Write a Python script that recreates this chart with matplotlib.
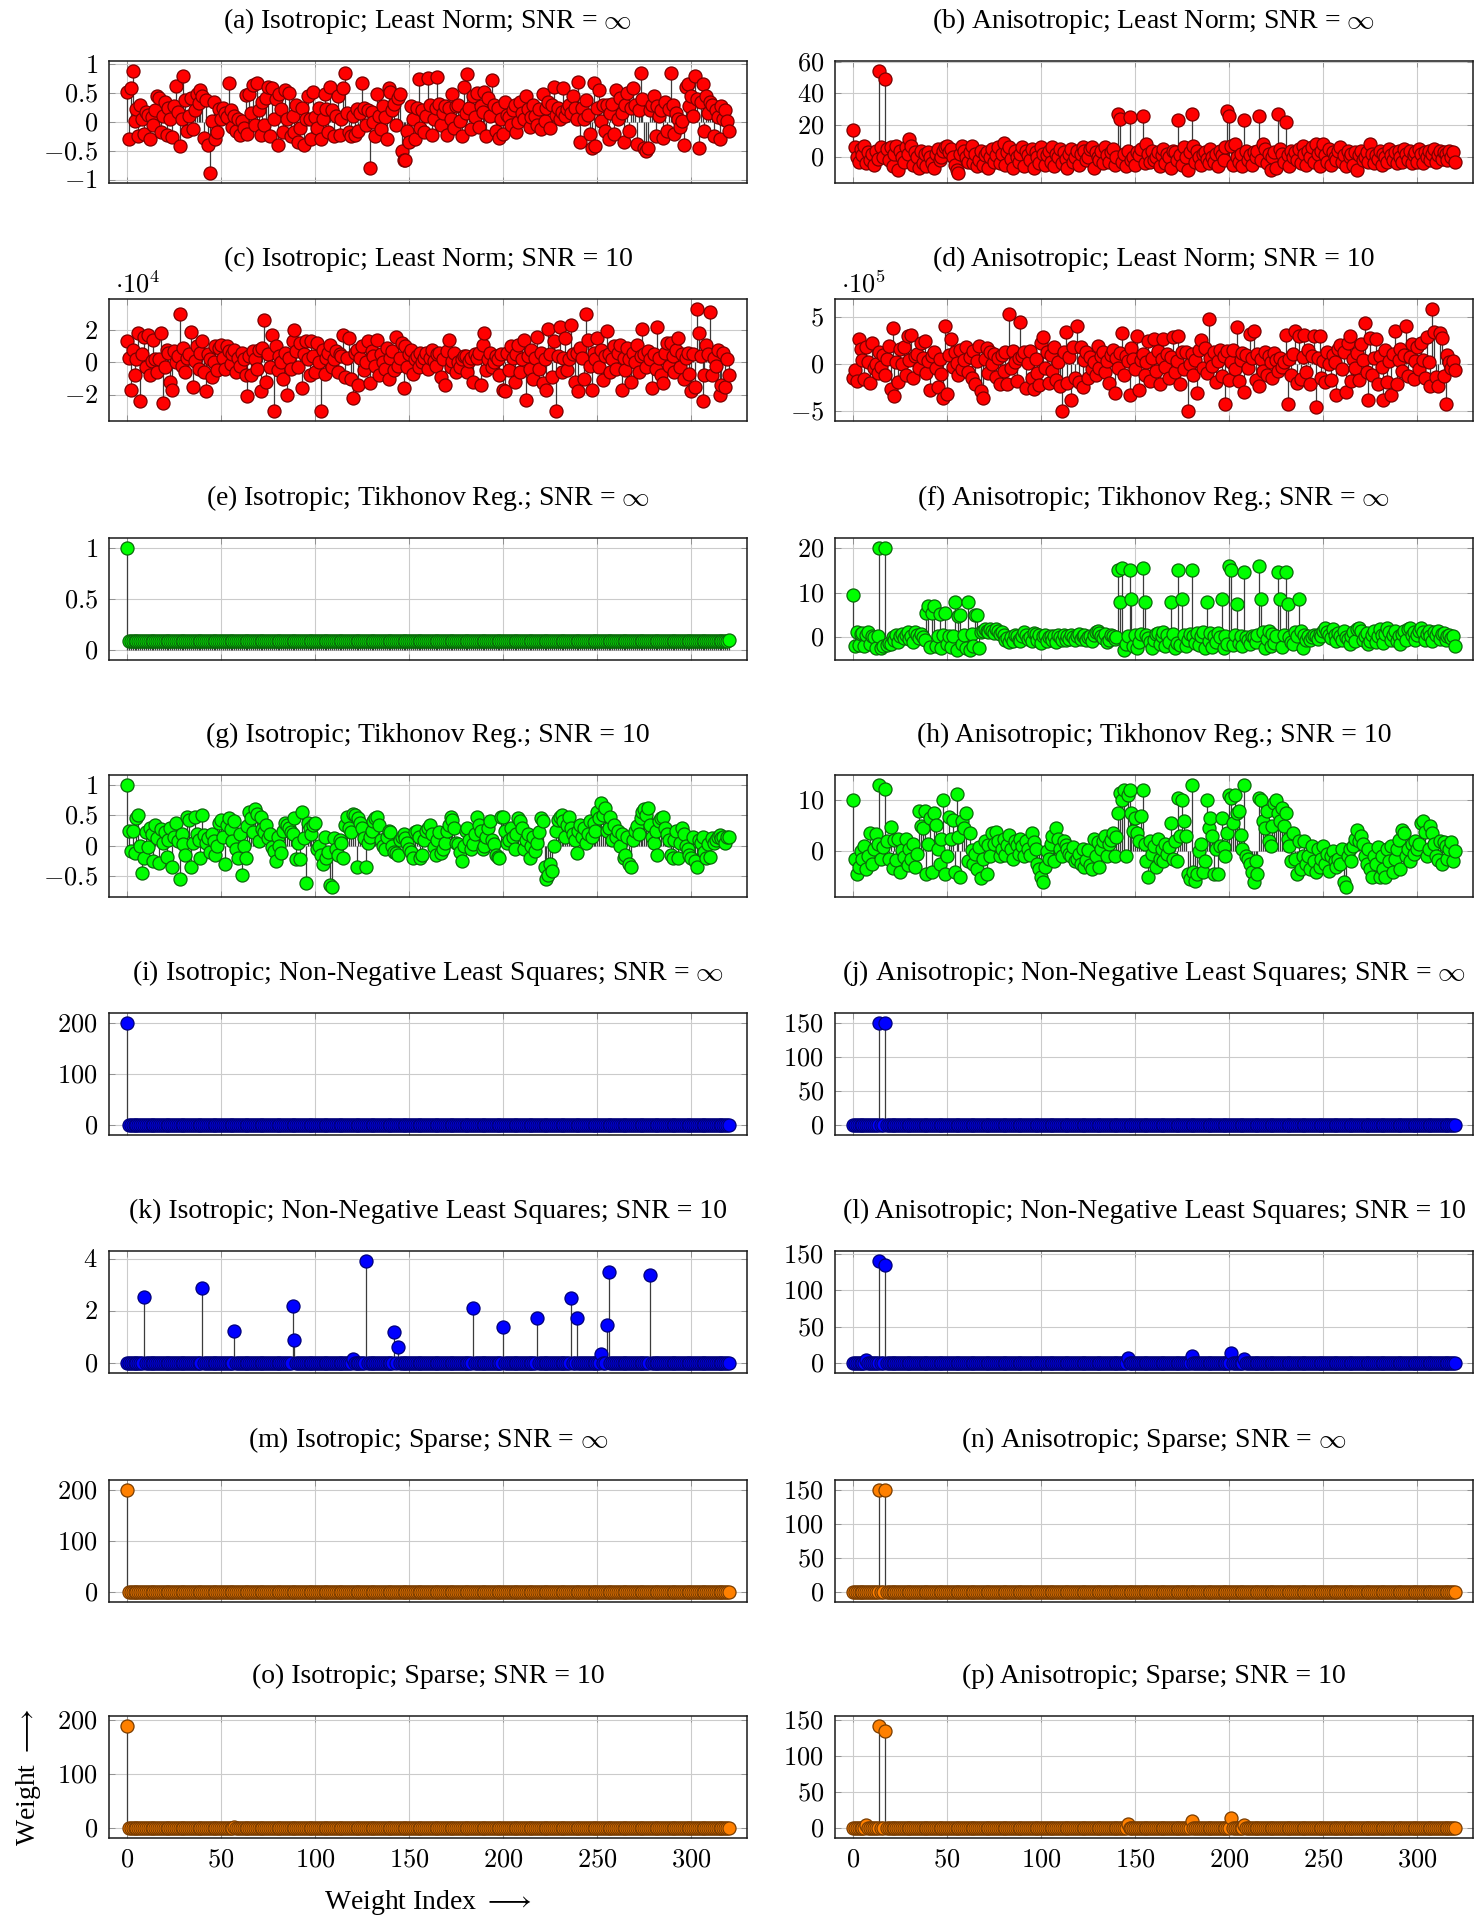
import numpy as np
import matplotlib
matplotlib.use("Agg")
import matplotlib.pyplot as plt
from matplotlib.ticker import FuncFormatter, MultipleLocator

plt.rcParams['mathtext.fontset'] = 'cm'
plt.rcParams['font.family'] = ['Liberation Serif', 'DejaVu Serif']

N_WEIGHTS = 321
X_TICKS = [0, 50, 100, 150, 200, 250, 300]

# (a) isotropic, least norm, SNR = inf
ln_iso_inf = [
    0.52, -0.30, 0.58, 0.88, 0.02, 0.22, -0.25, 0.30, 0.05, -0.20, 0.18, 0.12, -0.30, 0.08, -0.05, 0.20, 0.45, 0.42, -0.18, 0.10,
    0.35, -0.22, 0.25, 0.05, -0.26, 0.28, 0.62, 0.18, -0.42, 0.05, 0.80, 0.38, -0.15, 0.10, 0.42, -0.12, 0.20, 0.48, 0.33, 0.55,
    0.45, -0.28, 0.38, -0.40, -0.88, 0.02, 0.35, -0.30, -0.18, 0.22, 0.05, 0.25, 0.15, 0.08, 0.68, 0.20, -0.08, 0.10, -0.15, 0.05,
    -0.22, 0.02, -0.10, 0.47, -0.20, 0.48, 0.15, 0.64, -0.05, 0.68, 0.20, -0.22, 0.35, -0.05, 0.42, 0.60, -0.25, 0.58, 0.05, 0.40,
    -0.40, 0.48, 0.22, -0.18, 0.55, 0.05, 0.50, -0.25, 0.10, -0.18, 0.30, -0.35, -0.10, 0.25, -0.40, 0.05, 0.45, 0.05, -0.30, 0.52,
    0.08, -0.10, 0.25, -0.30, 0.05, 0.48, 0.22, -0.18, 0.60, 0.20, -0.25, 0.10, 0.45, -0.22, 0.05, 0.58, 0.85, 0.15, -0.18, -0.25,
    0.10, -0.22, 0.22, -0.15, 0.15, 0.67, 0.25, -0.05, 0.20, -0.80, 0.18, 0.00, -0.25, 0.48, 0.10, -0.12, 0.28, 0.08, -0.30, 0.58,
    0.52, 0.20, 0.32, -0.05, 0.42, 0.48, -0.50, -0.65, -0.65, -0.15, -0.35, 0.28, 0.05, -0.30, 0.25, 0.75, -0.10, 0.20, -0.18, 0.10,
    0.77, 0.30, -0.22, 0.05, 0.25, 0.78, 0.32, -0.05, 0.15, 0.28, -0.22, 0.25, 0.05, 0.48, -0.10, 0.28, 0.30, 0.02, -0.25, 0.60,
    0.15, 0.83, 0.25, -0.12, 0.45, 0.08, 0.50, -0.08, 0.28, 0.18, 0.52, -0.25, 0.42, 0.10, 0.72, 0.30, -0.15, 0.25, -0.28, 0.05,
    -0.20, 0.35, 0.12, 0.08, -0.05, 0.20, 0.30, -0.18, 0.00, 0.35, 0.15, 0.05, 0.45, 0.22, -0.08, 0.08, 0.30, 0.10, -0.05, 0.22,
    -0.12, 0.48, 0.02, 0.25, 0.35, -0.10, 0.30, 0.60, 0.12, 0.25, 0.05, 0.18, 0.58, 0.10, 0.22, 0.30, 0.15, 0.45, 0.25, 0.05,
    0.70, -0.35, 0.25, 0.05, 0.38, 0.12, -0.20, -0.45, 0.68, -0.42, 0.25, 0.55, 0.02, 0.30, -0.15, 0.30, -0.30, 0.15, 0.32, -0.20,
    0.55, 0.05, 0.42, 0.15, -0.35, 0.30, 0.50, -0.15, 0.25, 0.58, 0.30, -0.38, 0.20, 0.85, 0.40, -0.45, -0.50, -0.45, 0.20, 0.30,
    0.45, -0.25, 0.28, 0.10, 0.20, -0.28, 0.35, -0.15, 0.22, 0.84, 0.30, -0.20, 0.15, 0.05, -0.08, 0.02, -0.40, 0.60, 0.65, 0.28,
    0.45, 0.10, 0.80, 0.40, -0.45, 0.35, 0.65, -0.15, 0.45, 0.15, 0.35, 0.30, -0.25, 0.20, 0.08, -0.30, 0.28, 0.05, 0.20, 0.02,
    -0.15,
]

# (b) anisotropic, least norm, SNR = inf
ln_aniso_inf = [
    17, 6, 0, -3, 5, 1, 7, -4, 3, -2, 2, -5, 4, -1, 54, 6, 0, 49, 5, -2,
    6, -6, 2, 7, -8, 4, 0, -3, 6, 2, 11, 7, -5, 3, 0, -7, 4, -4, 2, -6,
    3, 0, -4, -7, 2, 5, -2, 0, 4, 6, 7, 3, 5, 0, -5, -8, -10, 2, 7, 4,
    0, -3, 3, 7, -4, 2, -6, -2, 4, -5, 1, 3, -7, 0, 5, -3, 1, 6, -4, 2,
    9, -5, 3, 6, -1, -7, 4, 0, -3, 2, 6, -6, 4, 1, -2, 5, -7, 3, 0, -4,
    6, 2, -5, 1, 4, -3, 6, -6, 2, 0, 5, -4, 3, -1, -7, 2, 5, -3, 0, 4,
    -5, 2, 6, 4, -2, 0, 5, 6, -7, 3, 0, -2, 4, -4, 6, 1, -3, 3, 5, -5,
    0, 27, 24, -3, 2, -6, 4, 25, -2, 0, -5, 3, 1, 5, 26, -4, 8, 2, -3, 4,
    -2, 0, 3, -6, 1, 5, -4, 2, 0, -7, 4, 3, -2, 23, 1, -5, 6, 0, -8, 3,
    27, 7, -3, 4, 0, -5, 2, 3, -1, -4, 5, 0, -3, 2, -6, 4, 1, -2, 6, 29,
    26, 7, -5, 8, 0, -3, 2, -6, 23, 4, -2, 1, -5, 3, 0, 4, 26, -2, 8, 5,
    -4, 2, -8, 0, 3, -7, 27, 5, 2, -3, 22, 1, -6, 4, 0, 3, -2, 5, -4, 7,
    2, -5, 4, 0, 6, -3, 8, 2, -6, 4, 8, 1, -3, 5, -5, 3, 0, -2, 4, 6,
    -3, 1, -6, 4, 0, 2, -5, 3, -8, 1, 4, -2, 0, 3, -3, 8, 2, -4, 1, -1,
    4, -5, 2, 0, -3, 5, 1, -2, 3, -4, 4, 0, -3, 5, 2, -2, 4, -4, 1, 3,
    -3, 5, 2, -4, 3, 0, 4, -2, 2, 5, -3, 1, 4, -1, 3, 2, -2, 4, 0, 3,
    -3,
]

# (c) isotropic, least norm, SNR = 10   (units of 1e4)
ln_iso_snr10 = [
    1.3, 0.3, -1.7, 0.8, -0.8, 0.2, 1.8, -2.4, 0.5, 1.6, -0.3, 1.7, -0.8, 0.1, 1.4, 0.2, -0.6, 0.2, 1.8, -2.5,
    -0.3, 0.8, 0.6, -1.2, -1.7, 0.7, 0.0, 0.4, 3.0, -0.2, 0.9, -0.6, 0.3, 0.5, 1.9, -1.5, 0.1, 1.0, -0.4, 0.6,
    1.3, -0.6, -1.8, 0.5, 0.2, -0.9, 0.0, 1.0, -0.5, 0.9, 1.1, 0.3, -0.4, 1.0, 0.7, -0.1, 0.5, 0.8, -0.6, 0.3,
    -0.2, 0.6, 0.2, -0.8, -2.1, 0.4, -0.8, 0.7, 0.2, -0.4, 0.8, -1.8, 0.9, 2.6, -1.2, 0.5, -0.3, 1.7, -3.0, 1.0,
    -0.5, 0.4, 0.0, -1.0, 0.6, -2.0, 0.3, -0.4, 1.3, 2.0, 0.7, -0.3, 1.2, -1.6, 0.5, 1.3, 0.2, -0.8, 1.3, 0.4,
    -0.6, 1.2, 0.0, -3.0, 0.8, -0.7, 0.3, 0.6, 1.1, -0.3, 0.2, 0.7, -0.6, 0.5, 0.4, 1.7, -0.9, 0.3, 1.5, -1.0,
    -2.2, 0.6, 0.8, -1.4, 0.3, 1.0, -0.5, 0.0, 1.3, -1.3, 0.7, 0.4, -0.2, 1.4, -0.8, 0.5, 0.0, -0.4, 0.9, -1.0,
    0.3, 0.7, -0.5, 1.6, -0.2, 0.3, 1.2, -1.6, 1.0, -0.3, 0.5, 0.8, -0.7, 0.2, 0.4, -0.3, 0.6, 0.0, 0.3, 0.6,
    -0.4, 0.3, 0.8, 0.1, -0.2, 0.5, 0.6, -0.9, 0.2, -1.4, 0.7, 1.4, -0.3, 0.1, 0.6, -0.6, 0.0, -0.3, 0.2, 0.4,
    0.4, -0.6, 0.1, 0.3, -1.2, 0.5, 0.3, 0.6, -1.4, 1.1, 1.8, -0.5, 0.2, 0.6, -0.3, 0.0, 0.4, 0.2, -0.8, 0.5,
    -1.7, -1.8, 0.6, -0.5, 1.0, 0.3, -1.2, 0.5, 1.1, -0.6, 0.2, 1.4, -2.3, 0.4, -0.4, 0.8, -1.0, 0.3, 1.6, -0.4,
    0.6, -1.3, 0.2, -1.7, 2.1, 0.5, -0.9, 1.3, -3.0, 0.4, 2.2, -0.6, 0.3, 1.5, -0.5, 0.2, 2.3, 0.5, -1.2, 0.6,
    -1.8, 0.9, 0.3, -1.0, 3.0, 1.4, -0.2, -1.7, 0.6, 0.2, 1.5, -0.3, 0.8, -1.1, 0.4, 1.95, 0.5, -0.6, 0.2, 1.0,
    -0.4, 0.6, 1.1, -1.7, 0.3, -0.5, 0.9, 0.2, -1.2, 0.6, 0.0, 1.1, -0.6, 0.4, 2.1, 0.5, -0.3, 0.7, 0.2, -1.6,
    0.5, -0.4, 2.2, 0.3, -0.8, -1.3, 0.6, 1.2, -0.2, 1.2, 0.4, -0.6, 0.8, 1.5, -0.3, 0.5, -1.0, 0.3, 0.6, -0.7,
    -1.8, 0.5, -1.5, 3.3, 1.8, 0.4, -2.4, -0.8, 1.1, 0.5, 3.1, -0.8, 0.3, -0.2, 0.8, -2.0, -1.4, 0.6, -1.5, 0.2,
    -0.8,
]

# (d) anisotropic, least norm, SNR = 10   (units of 1e5)
ln_aniso_snr10 = [
    -1.5, -0.7, -1.8, 2.6, 1.6, 0.4, -1.6, 1.8, 0.2, -2.0, 2.2, -0.5, 0.0, -1.0, 1.2, -0.3, 0.9, -1.2, 0.5, 1.9,
    -2.7, 3.8, -3.4, 0.2, -1.9, 1.6, 0.0, 1.8, -1.2, 2.9, 0.4, 3.1, -1.5, 0.8, 1.0, -0.5, 2.2, 0.6, 2.4, -1.0,
    0.3, -2.8, 0.8, 1.2, -0.4, -2.5, 0.5, -1.1, -3.6, 4.0, -3.2, 0.9, 2.6, -0.3, 1.2, 0.1, -1.2, 1.5, -0.6, 0.4,
    1.8, -0.9, 0.7, -1.5, 1.4, -2.2, 0.3, 1.9, -2.9, -3.6, 0.5, 1.7, -1.0, 1.2, 0.0, 1.0, -1.4, 0.6, -2.2, 0.9,
    -0.8, 1.3, -2.1, 5.3, -0.5, 1.4, 0.2, -1.8, 0.6, 4.4, 0.8, 1.2, -2.6, 0.1, 1.4, -1.5, -2.7, 0.5, -1.0, -2.3,
    2.2, 2.8, -0.5, 1.2, -2.0, 0.9, -0.8, 1.8, -1.7, 0.2, -2.4, -5.0, 1.3, 3.4, -2.0, 0.7, -3.8, 1.8, -1.5, 4.0,
    -1.9, 1.8, -2.5, 0.4, 1.2, -1.5, 0.7, -0.6, 0.2, -1.2, 1.9, -0.4, 0.8, 1.2, -0.9, 0.3, -2.0, 0.9, 1.5, -3.1,
    0.6, -0.4, 1.1, 3.3, -1.2, 0.8, 0.3, -3.3, 1.7, 0.5, -0.6, 3.0, -2.8, 0.4, 1.0, -1.2, 0.2, 2.4, -1.8, 0.6,
    2.6, -0.8, 1.4, -2.1, 0.5, 2.6, -0.3, 1.0, -1.5, 0.7, 2.8, -0.9, 0.3, 2.9, -2.2, 1.3, -0.6, 1.2, -5.0, 0.0,
    1.0, -1.2, 0.4, -3.1, 1.5, 2.5, -0.4, 1.7, -1.0, 4.8, 0.6, -0.2, 1.2, -1.9, 0.3, 1.5, -1.3, 0.8, -4.3, 1.4,
    -1.7, 0.2, 1.5, -0.6, 3.9, -1.8, 0.4, 1.1, -3.0, 0.9, -0.5, 3.2, 0.6, 3.5, -1.7, 1.0, -2.4, 0.5, -0.8, 1.2,
    -1.2, 0.8, 0.2, -1.5, 1.1, 0.4, -0.8, 0.6, -0.3, 0.2, 3.1, -4.3, 0.5, -1.2, 1.0, 3.5, -2.0, 3.0, -1.6, 0.7,
    3.1, -0.9, 1.5, -2.2, 0.8, 2.9, -4.6, 0.6, 3.0, -1.5, 0.3, -1.9, 1.2, 0.0, -1.7, 0.9, 0.2, -3.3, 1.6, 2.0,
    -0.6, 1.3, -3.0, 2.2, 2.9, -1.8, 0.5, -0.4, 1.1, -1.7, 2.1, 0.4, 4.3, -0.9, -3.8, 2.7, -1.2, 0.6, 2.6, -2.2,
    0.8, -0.3, -3.9, 1.5, -1.9, 0.3, -3.3, 1.0, 3.5, -2.1, 0.4, 1.6, -0.8, 0.9, 4.0, -1.3, 0.7, 2.1, -1.6, 0.3,
    1.8, -0.6, 2.2, 0.4, -1.5, 2.8, 0.2, -2.4, 5.8, 3.4, -1.4, -2.4, 3.3, 2.7, -1.3, -4.3, 0.9, 0.2, -0.5, 0.3,
    -0.7,
]

# (e) isotropic, Tikhonov, SNR = inf
tik_iso_inf = [1.0] + [0.09] * 319 + [0.10]

# (f) anisotropic, Tikhonov, SNR = inf
tik_aniso_inf = [
    9.5, -2.0, 1.2, -1.8, 0.8, 1.0, -2.0, 0.5, 1.2, -1.5, 0.2, 0.0, -2.5, 0.3, 20.0, -2.4, -2.0, 20.0, -1.8, -1.2,
    -1.5, 0.0, -0.5, 0.5, -1.0, 0.2, 0.8, -0.2, 0.5, 1.2, -0.4, 0.3, -1.0, 1.2, 0.5, -0.2, 0.8, 0.0, -0.5, 5.5,
    7.0, -2.2, 5.5, 7.0, -2.0, 0.3, 5.3, -2.5, 0.5, 5.4, -1.5, 0.2, -2.2, 0.3, 8.0, -2.8, 4.8, 5.0, -1.5, 0.5,
    -2.5, 8.0, -2.8, 0.8, -2.0, 5.0, 5.0, -2.5, 1.2, 1.5, 1.8, 1.5, 1.2, 1.8, 1.5, 1.0, 1.8, 1.5, 0.8, 1.2,
    0.5, -0.5, -0.2, -1.0, 0.0, -0.8, 0.5, 0.2, -0.5, -0.9, 0.4, 1.2, 0.6, -0.3, 0.0, -0.8, 1.0, 0.8, -0.5, 0.5,
    -1.2, 0.2, 0.6, -0.9, 0.0, 0.4, -0.6, 0.3, -1.0, 0.6, 0.0, -0.5, 0.5, -0.7, 0.2, -0.4, 0.6, 0.0, -0.6, 0.4,
    0.8, -0.3, 0.2, 0.6, -0.5, 0.0, 0.3, -0.8, 0.5, 1.2, 1.5, 1.0, 0.4, -0.2, 0.8, -1.0, -0.5, 0.6, 0.2, -0.3,
    0.0, 15.0, 8.0, 15.5, -2.8, -1.5, 0.2, 15.0, 8.5, -2.0, 0.5, -2.5, -1.0, 0.8, 15.5, 8.0, 0.5, -0.2, -1.0, -2.5,
    -0.5, 0.8, 1.0, -1.5, 0.3, 1.2, -2.0, 0.5, -1.0, 8.0, 0.8, -2.5, -1.2, 15.0, -1.8, 8.5, 0.5, -2.0, -0.5, 0.8,
    15.0, 0.2, -1.2, 1.0, -1.8, 0.4, 1.2, -2.4, 8.0, -0.8, 1.0, -2.2, 0.2, -1.0, 1.0, 0.0, 8.5, -2.4, 0.4, -1.5,
    16.0, 15.0, -1.8, 0.5, 7.5, -1.2, 0.3, -2.0, 14.7, 0.0, -0.5, -1.5, 0.2, 0.0, -1.0, 0.6, 16.0, 8.5, 1.2, -2.4,
    -0.3, 1.5, -2.0, 0.8, -1.2, 0.4, 14.7, 8.5, -2.2, 0.5, 14.7, 7.5, 0.0, -1.0, -1.5, 1.2, 0.3, 8.5, 1.5, -2.5,
    0.5, -0.5, 0.3, -0.5, 0.0, 0.5, 0.2, -0.3, 0.8, 0.4, 1.5, 2.0, 1.2, 0.5, -0.2, 1.8, 0.6, -0.8, 1.0, 0.2,
    -0.6, 1.5, 0.0, -0.3, -1.5, 0.4, 1.2, -0.8, 1.8, 2.0, 1.5, -0.5, 0.2, 1.0, -1.5, -0.8, 0.6, 1.5, -1.0, 0.3,
    1.8, 0.5, -1.2, 0.8, 2.0, 1.2, -0.5, 0.6, 1.5, -0.8, 0.3, -1.5, 0.8, 1.4, -0.5, 1.8, 2.0, 0.6, 1.2, -0.6,
    0.5, 1.5, 2.0, 1.2, -0.5, 0.8, 1.5, 0.2, -0.8, 1.2, 0.6, 1.5, -0.3, 0.8, 1.0, -0.5, 0.2, 0.6, -0.2, 0.3,
    -2.0,
]

# (g) isotropic, Tikhonov, SNR = 10
tik_iso_snr10 = [
    1.00, 0.25, -0.08, 0.25, -0.12, 0.45, 0.50, 0.00, -0.45, -0.20, 0.22, -0.02, 0.30, 0.20, -0.25, 0.35, 0.12, -0.28, 0.28, 0.05,
    0.22, -0.18, 0.10, 0.30, -0.35, 0.15, 0.38, 0.08, -0.55, 0.20, 0.02, -0.15, 0.48, 0.42, -0.35, 0.05, 0.48, 0.20, 0.10, -0.20,
    0.50, 0.18, 0.05, 0.12, -0.10, 0.20, 0.08, -0.15, 0.00, 0.38, 0.42, 0.15, -0.30, 0.35, 0.45, 0.28, 0.08, 0.40, -0.05, -0.20,
    0.20, -0.48, 0.00, -0.20, 0.32, 0.55, 0.45, 0.22, 0.60, 0.52, 0.08, 0.48, 0.28, 0.22, 0.35, 0.12, 0.20, -0.02, -0.08, -0.25,
    0.15, 0.00, -0.12, 0.25, 0.38, 0.35, 0.30, 0.22, 0.20, 0.45, -0.22, 0.05, -0.22, 0.55, 0.12, -0.62, 0.38, 0.30, 0.20, 0.35,
    0.38, -0.05, 0.00, -0.15, -0.30, 0.15, -0.20, -0.10, -0.65, -0.68, 0.12, -0.05, -0.15, 0.10, 0.05, -0.20, 0.35, 0.48, 0.30, 0.22,
    0.52, 0.50, -0.35, 0.45, 0.38, 0.30, 0.12, -0.35, 0.05, 0.15, 0.25, 0.40, 0.45, 0.48, 0.35, 0.10, 0.00, -0.05, 0.15, 0.25,
    0.22, 0.00, -0.10, -0.12, -0.15, 0.10, 0.15, 0.20, 0.12, 0.05, -0.05, -0.10, -0.20, 0.22, 0.25, 0.15, -0.20, -0.15, 0.10, 0.25,
    0.30, 0.35, 0.20, -0.02, -0.15, 0.10, 0.22, -0.12, -0.05, 0.05, 0.25, 0.35, 0.48, 0.42, 0.30, 0.05, 0.02, -0.10, -0.25, 0.00,
    0.25, 0.30, 0.10, -0.05, 0.02, 0.20, 0.48, 0.35, 0.25, -0.05, 0.00, 0.15, 0.30, 0.40, 0.10, 0.02, -0.15, -0.18, -0.20, 0.48,
    0.48, 0.25, 0.05, 0.10, 0.30, 0.15, -0.05, 0.20, 0.45, 0.40, 0.30, -0.05, 0.10, 0.20, -0.20, 0.00, 0.15, -0.08, 0.05, 0.22,
    0.45, 0.40, -0.35, -0.55, -0.48, -0.30, -0.42, 0.00, 0.25, 0.42, 0.48, 0.50, 0.40, 0.15, 0.35, 0.48, 0.30, 0.20, 0.10, -0.12,
    0.25, 0.35, 0.15, 0.30, 0.05, 0.20, 0.40, 0.15, 0.38, 0.25, 0.55, 0.45, 0.70, 0.50, 0.62, 0.25, 0.30, 0.48, 0.10, 0.35,
    0.15, 0.25, 0.00, 0.20, -0.20, -0.15, 0.15, -0.30, -0.35, 0.10, 0.25, 0.32, 0.20, 0.45, 0.55, 0.60, 0.50, 0.62, 0.35, 0.15,
    0.05, 0.25, -0.15, 0.40, 0.45, 0.48, 0.30, 0.20, 0.10, -0.15, -0.20, 0.10, 0.25, -0.20, 0.05, 0.30, 0.20, 0.00, -0.05, -0.15,
    -0.20, 0.15, -0.25, -0.35, 0.10, 0.05, 0.15, -0.10, -0.20, 0.02, -0.18, 0.12, 0.05, 0.10, 0.15, 0.18, 0.12, 0.15, 0.05, 0.15,
    0.15,
]

# (h) anisotropic, Tikhonov, SNR = 10
tik_aniso_snr10 = [
    10.0, -1.5, -4.5, -3.0, 0.0, -1.5, 1.0, -3.5, -1.0, 3.5, -2.5, 0.5, 3.3, 1.5, 13.0, -1.5, 0.8, 12.3, 2.0, -1.5,
    4.7, -3.2, 2.2, -1.8, 2.5, -4.0, 0.2, -1.2, 2.4, -2.8, 0.5, -1.5, 1.5, -3.0, -0.5, 8.0, 5.0, 4.5, 8.0, -4.5,
    1.5, 6.5, -4.0, 7.5, 5.2, 0.5, -2.5, 2.5, 10.0, -4.5, -1.0, 6.8, 2.5, 6.2, -4.0, 11.3, 2.8, -5.0, 6.0, 4.5,
    7.5, -2.0, 3.5, 0.2, -2.5, -0.5, -3.5, 0.8, -5.2, -1.5, 2.0, -4.5, 1.2, -1.0, 3.5, 1.5, 3.8, 2.0, -1.0, 0.5,
    2.5, -0.8, 1.2, 3.2, 0.5, -1.5, 2.0, 1.2, -0.5, 2.5, 1.0, -1.0, 2.0, 0.5, -0.8, 3.5, 1.8, 0.5, -2.5, -3.5,
    -5.0, -6.0, -3.0, 0.0, -1.5, 1.5, 3.0, -2.0, 4.5, 2.5, 0.5, -1.0, 2.0, 1.2, 0.5, -0.5, -1.0, 0.8, -2.0, -1.5,
    -0.5, -2.5, 0.5, -3.0, -1.8, 0.2, -2.8, -3.5, 2.5, -1.0, 1.8, -3.0, 0.5, 2.0, 3.0, -1.0, 1.5, 2.2, 3.5, -1.0,
    2.8, 7.5, 11.5, 10.0, 12.0, -1.0, 11.0, 12.0, 7.5, 4.0, 6.5, 3.5, 2.0, 7.0, 12.0, 1.5, -2.0, -5.0, 2.0, -0.5,
    1.0, -3.0, 2.5, -1.5, 0.5, -2.0, 1.5, -0.5, 0.8, 5.5, -1.5, 2.0, -2.0, 10.5, 3.0, 10.0, 6.0, 3.0, -4.5, -5.5,
    13.0, -4.0, -5.8, -4.5, 0.0, 1.5, -4.0, -2.0, 10.0, 4.5, 6.5, 3.0, -4.5, 0.5, -4.5, 1.0, 6.5, 0.8, -1.0, 3.5,
    11.0, 10.5, 5.5, 11.0, 7.5, 8.0, 3.2, 0.5, 13.0, -1.0, -1.5, -2.5, -4.0, -6.0, -2.0, -4.5, 10.5, 10.0, 6.0, 4.5,
    8.0, 2.0, 1.0, 5.0, 9.5, 10.0, 7.5, 6.0, 8.5, 5.0, 7.5, 2.5, 1.0, -2.0, 3.5, -1.5, -4.5, 2.0, -3.5, -1.0,
    2.0, -2.5, -1.0, -3.5, 1.0, -2.0, -4.0, 0.5, -3.0, -1.5, 1.0, -2.5, -0.5, -3.8, -1.0, 0.0, -2.0, -3.0, -1.5, -2.5,
    0.5, -6.0, -7.0, -1.0, 0.5, -2.0, 1.0, 2.5, 4.2, 2.0, 3.0, 1.5, -1.0, -2.5, 0.5, -3.5, -5.0, -1.0, -2.5, 0.8,
    -5.0, -1.0, -3.5, -5.0, 0.5, -2.0, 1.0, -4.0, -1.5, 0.5, 2.2, -3.5, 4.2, 3.5, -1.0, 0.5, -2.0, 1.5, -0.5, 2.0,
    0.5, 1.5, 5.5, 6.0, 3.8, -1.0, 0.5, 5.0, 3.5, 1.5, -1.0, -1.8, 2.0, -2.5, 1.8, 1.0, -1.5, 0.5, 1.8, -2.0,
    0.0,
]

# sparse results: non-zero indices and their weights, all other weights are 0
nnls_iso_inf_idx, nnls_iso_inf_val = [0], [200]
nnls_aniso_inf_idx, nnls_aniso_inf_val = [14, 17], [150, 150]
nnls_iso_snr10_idx = [9, 40, 57, 88, 89, 120, 127, 142, 144, 184, 200, 218, 236, 239, 252, 255, 256, 278]
nnls_iso_snr10_val = [2.52, 2.86, 1.23, 2.19, 0.88, 0.15, 3.9, 1.17, 0.6, 2.1, 1.39, 1.72, 2.48, 1.72, 0.32, 1.45, 3.5, 3.38]
nnls_aniso_snr10_idx = [7, 14, 17, 146, 180, 201, 208]
nnls_aniso_snr10_val = [4, 140, 135, 6, 10, 14, 5]
sp_iso_inf_idx, sp_iso_inf_val = [0], [200]
sp_aniso_inf_idx, sp_aniso_inf_val = [14, 17], [150, 150]
sp_iso_snr10_idx, sp_iso_snr10_val = [0, 57], [188, 1.0]
sp_aniso_snr10_idx = [7, 14, 17, 146, 180, 201, 208]
sp_aniso_snr10_val = [4, 141, 134, 6, 10, 14, 4]

COLORS = {
    'red': ('#ff0000', '#7a0000'),
    'green': ('#00ff00', '#0a6a0a'),
    'blue': ('#0000ff', '#00007a'),
    'orange': ('#ff8000', '#7a3d00'),
}


def sparse(idx, vals):
    w = np.zeros(N_WEIGHTS)
    w[idx] = vals
    return w


INF = "= $\\infty$"
panels = [
    (f"(a) Isotropic; Least Norm; SNR {INF}", ln_iso_inf, 'red', 0.5, None),
    (f"(b) Anisotropic; Least Norm; SNR {INF}", ln_aniso_inf, 'red', 20, None),
    ("(c) Isotropic; Least Norm; SNR = 10", ln_iso_snr10, 'red', 2, 4),
    ("(d) Anisotropic; Least Norm; SNR = 10", ln_aniso_snr10, 'red', 5, 5),
    (f"(e) Isotropic; Tikhonov Reg.; SNR {INF}", tik_iso_inf, 'green', 0.5, None),
    (f"(f) Anisotropic; Tikhonov Reg.; SNR {INF}", tik_aniso_inf, 'green', 10, None),
    ("(g) Isotropic; Tikhonov Reg.; SNR = 10", tik_iso_snr10, 'green', 0.5, None),
    ("(h) Anisotropic; Tikhonov Reg.; SNR = 10", tik_aniso_snr10, 'green', 10, None),
    (f"(i) Isotropic; Non-Negative Least Squares; SNR {INF}",
     sparse(nnls_iso_inf_idx, nnls_iso_inf_val), 'blue', 100, None),
    (f"(j) Anisotropic; Non-Negative Least Squares; SNR {INF}",
     sparse(nnls_aniso_inf_idx, nnls_aniso_inf_val), 'blue', 50, None),
    ("(k) Isotropic; Non-Negative Least Squares; SNR = 10",
     sparse(nnls_iso_snr10_idx, nnls_iso_snr10_val), 'blue', 2, None),
    ("(l) Anisotropic; Non-Negative Least Squares; SNR = 10",
     sparse(nnls_aniso_snr10_idx, nnls_aniso_snr10_val), 'blue', 50, None),
    (f"(m) Isotropic; Sparse; SNR {INF}", sparse(sp_iso_inf_idx, sp_iso_inf_val), 'orange', 100, None),
    (f"(n) Anisotropic; Sparse; SNR {INF}", sparse(sp_aniso_inf_idx, sp_aniso_inf_val), 'orange', 50, None),
    ("(o) Isotropic; Sparse; SNR = 10", sparse(sp_iso_snr10_idx, sp_iso_snr10_val), 'orange', 100, None),
    ("(p) Anisotropic; Sparse; SNR = 10", sparse(sp_aniso_snr10_idx, sp_aniso_snr10_val), 'orange', 50, None),
]

W, H = 1477, 1920
fig = plt.figure(figsize=(W / 100, H / 100), dpi=100)

col_left = [109, 835]
col_width = 638
row_top = [61, 299, 538, 775, 1013, 1251, 1480, 1716]
row_height = 122


def tick_fmt(v, _):
    if abs(v) < 1e-9:
        v = 0
    return f"${v:g}$"


for i, (title, vals, ckey, ystep, expo) in enumerate(panels):
    r, c = divmod(i, 2)
    rect = [col_left[c] / W, 1 - (row_top[r] + row_height) / H, col_width / W, row_height / H]
    ax = fig.add_axes(rect)
    y = np.asarray(vals, dtype=float)
    x = np.arange(len(y))
    fill, edge = COLORS[ckey]
    ml, sl, bl = ax.stem(x, y, linefmt='-', markerfmt='o', basefmt=' ')
    plt.setp(sl, color='#3c3c3c', linewidth=0.9)
    plt.setp(ml, markersize=9.4, markerfacecolor=fill, markeredgecolor=edge,
             markeredgewidth=0.9, zorder=3)
    ax.margins(x=0.03, y=0.1)
    ax.set_xticks(X_TICKS)
    ax.yaxis.set_major_locator(MultipleLocator(ystep))
    ax.yaxis.set_major_formatter(FuncFormatter(tick_fmt))
    ax.xaxis.set_major_formatter(FuncFormatter(tick_fmt))
    ax.grid(True, color='#cbcbcb', linewidth=0.8)
    ax.set_axisbelow(True)
    ax.tick_params(direction='in', top=True, right=True, length=4, width=0.6,
                   color='#888888', labelsize=19, pad=8)
    for s in ax.spines.values():
        s.set_linewidth(1.1)
        s.set_color('#1a1a1a')
    if r < 7:
        ax.tick_params(labelbottom=False)
    ax.set_title(title, fontsize=20, pad=24)
    if expo is not None:
        ax.text(0.01, 1.01, f"$\\cdot 10^{expo}$", transform=ax.transAxes,
                ha='left', va='bottom', fontsize=19)
    if r == 7 and c == 0:
        ax.set_xlabel("Weight Index $\\longrightarrow$", fontsize=20, labelpad=12)
        ax.set_ylabel("Weight $\\longrightarrow$", fontsize=20, labelpad=10)

fig.savefig("out.png", dpi=100)
